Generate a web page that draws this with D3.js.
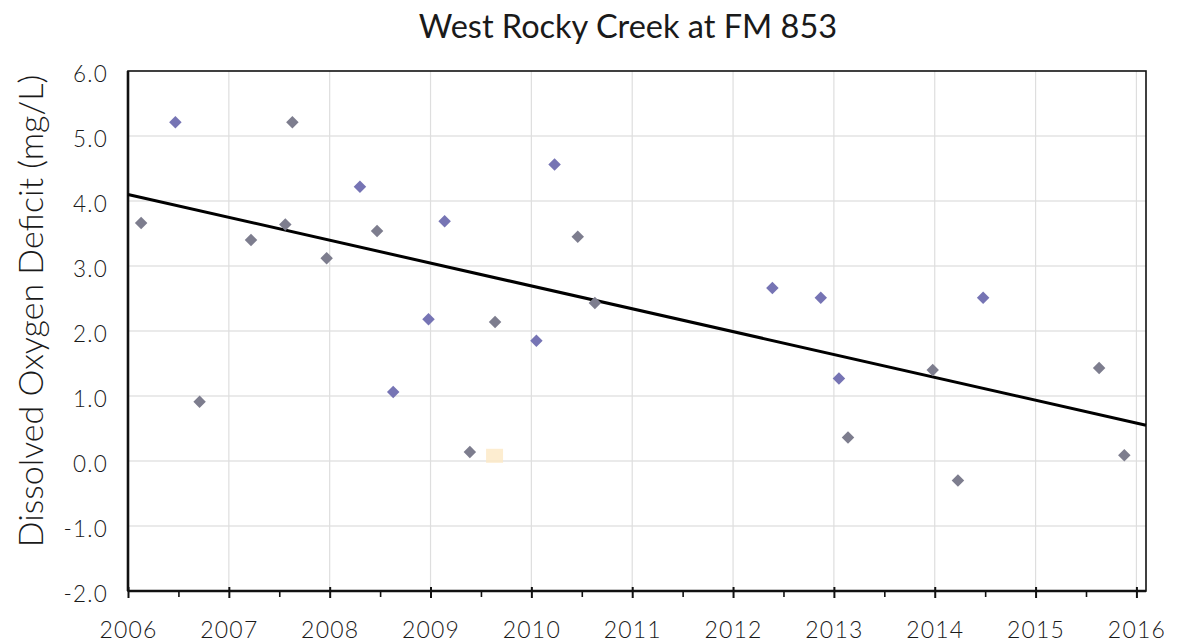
<!DOCTYPE html>
<html>
<head>
<meta charset="utf-8">
<script src="https://cdn.jsdelivr.net/npm/d3@7"></script>
<style>
  html, body { margin: 0; padding: 0; background: #ffffff; }
  svg { display: block; }
  text { font-family: "Century Gothic", "Futura", "Lato", "DejaVu Sans", sans-serif; fill: #1a1a1a; }
</style>
</head>
<body>
<svg id="chart" width="1182" height="643"></svg>
<script>
// ---- Data (decimal year, DO deficit mg/L) ----
const chartTitle = "West Rocky Creek at FM 853";
const yAxisTitle = "Dissolved Oxygen Deficit (mg/L)";

// blue-purple markers
const blueX = [2006.47, 2008.30, 2008.63, 2008.98, 2009.14, 2010.05, 2010.23, 2012.39, 2012.87, 2013.05, 2014.48];
const blueY = [5.21, 4.22, 1.06, 2.18, 3.69, 1.85, 4.56, 2.66, 2.51, 1.27, 2.51];

// grey markers
const greyX = [2006.13, 2006.71, 2007.22, 2007.56, 2007.63, 2007.97, 2008.47, 2009.39, 2009.64, 2010.46, 2010.63, 2013.14, 2013.98, 2014.23, 2015.63, 2015.88];
const greyY = [3.66, 0.91, 3.40, 3.64, 5.21, 3.12, 3.54, 0.14, 2.14, 3.45, 2.43, 0.36, 1.40, -0.30, 1.43, 0.09];

// faint pale marker
const paleX = [2009.63];
const paleY = [0.08];

// linear trend line end points
const trendX = [2006.0, 2016.095];
const trendY = [4.10, 0.55];

// axes
const xTickYears = [2006, 2007, 2008, 2009, 2010, 2011, 2012, 2013, 2014, 2015, 2016];
const xMinorTicks = [2006.5, 2007.5, 2008.5, 2009.5, 2010.5, 2011.5, 2012.5, 2013.5, 2014.5, 2015.5];
const yTicks = [-2, -1, 0, 1, 2, 3, 4, 5, 6];
const xDomain = [2006, 2016.095];
const yDomain = [-2, 6];

// ---- Layout ----
const svg = d3.select("#chart");
const pLeft = 128, pRight = 1146, pTop = 71, pBottom = 591;

const x = d3.scaleLinear().domain(xDomain).range([pLeft, pRight]);
const y = d3.scaleLinear().domain(yDomain).range([pBottom, pTop]);

// grid lines
const grid = svg.append("g");
grid.selectAll("line.h").data(yTicks.filter(v => v > yDomain[0] && v < yDomain[1]))
  .enter().append("line")
  .attr("x1", pLeft).attr("x2", pRight)
  .attr("y1", d => y(d)).attr("y2", d => y(d))
  .attr("stroke", "#d6d6d6").attr("stroke-width", 1.2);
grid.selectAll("line.v").data(xTickYears.filter(v => v > xDomain[0]))
  .enter().append("line")
  .attr("x1", d => x(d)).attr("x2", d => x(d))
  .attr("y1", pTop).attr("y2", pBottom)
  .attr("stroke", "#dedede").attr("stroke-width", 1.2);

// frame
svg.append("rect")
  .attr("x", pLeft).attr("y", pTop)
  .attr("width", pRight - pLeft).attr("height", pBottom - pTop)
  .attr("fill", "none").attr("stroke", "#111").attr("stroke-width", 1.6);
svg.append("line").attr("x1", pLeft).attr("x2", pLeft).attr("y1", pTop).attr("y2", pBottom)
  .attr("stroke", "#111").attr("stroke-width", 2.6);
svg.append("line").attr("x1", pLeft).attr("x2", pRight).attr("y1", pBottom).attr("y2", pBottom)
  .attr("stroke", "#111").attr("stroke-width", 2.6);

// x axis ticks
const xAxis = d3.axisBottom(x).tickValues(xTickYears).tickSize(7).tickFormat(d3.format("d"));
const gx = svg.append("g").attr("transform", `translate(0,${pBottom})`).call(xAxis);
gx.select(".domain").remove();
gx.selectAll(".tick line").attr("stroke", "#111").attr("stroke-width", 2).attr("y1", -4);
gx.selectAll(".tick text")
  .attr("y", 47).attr("dy", 0)
  .style("font-size", "23px").style("font-weight", "300").style("letter-spacing", "1.2px")
  .attr("fill", "#1a1a1a");
// minor ticks
const xMinor = d3.axisBottom(x).tickValues(xMinorTicks).tickSize(6).tickFormat("");
const gxm = svg.append("g").attr("transform", `translate(0,${pBottom})`).call(xMinor);
gxm.select(".domain").remove();
gxm.selectAll(".tick line").attr("stroke", "#111").attr("stroke-width", 1.6);

// y axis labels (hyphen minus as in the original)
const yFmt = v => d3.format(".1f")(v).replace("\u2212", "-");
const yAxis = d3.axisLeft(y).tickValues(yTicks).tickSize(0).tickPadding(20).tickFormat(yFmt);
const gy = svg.append("g").attr("transform", `translate(${pLeft},0)`).call(yAxis);
gy.select(".domain").remove();
gy.selectAll(".tick text")
  .attr("y", 3)
  .style("font-size", "22.5px").style("font-weight", "300").style("letter-spacing", "1.2px")
  .attr("fill", "#1a1a1a");

// trend line
const line = d3.line().x(d => x(d[0])).y(d => y(d[1]));
svg.append("path")
  .datum(d3.zip(trendX, trendY))
  .attr("d", line)
  .attr("fill", "none").attr("stroke", "#000").attr("stroke-width", 3);

// markers (square rotated 45 degrees)
const diamond = d3.symbol().type(d3.symbolSquare).size(78);
svg.append("g").selectAll("rect")
  .data(d3.zip(paleX, paleY)).enter().append("rect")
  .attr("x", d => x(d[0]) - 8).attr("y", d => y(d[1]) - 7)
  .attr("width", 17).attr("height", 14)
  .attr("fill", "#fde9c4").attr("opacity", 0.8);
svg.append("g").selectAll("path")
  .data(d3.zip(greyX, greyY)).enter().append("path")
  .attr("d", diamond)
  .attr("transform", d => `translate(${x(d[0])},${y(d[1])}) rotate(45)`)
  .attr("fill", "#7d7d8e");
svg.append("g").selectAll("path")
  .data(d3.zip(blueX, blueY)).enter().append("path")
  .attr("d", diamond)
  .attr("transform", d => `translate(${x(d[0])},${y(d[1])}) rotate(45)`)
  .attr("fill", "#7674b4");

// titles
svg.append("text")
  .attr("x", 628).attr("y", 38)
  .attr("text-anchor", "middle")
  .style("font-size", "32.5px")
  .text(chartTitle);
svg.append("text")
  .attr("transform", `translate(43,311) rotate(-90)`)
  .attr("text-anchor", "middle")
  .style("font-size", "34px")
  .style("font-weight", "300")
  .text(yAxisTitle);
</script>
</body>
</html>
